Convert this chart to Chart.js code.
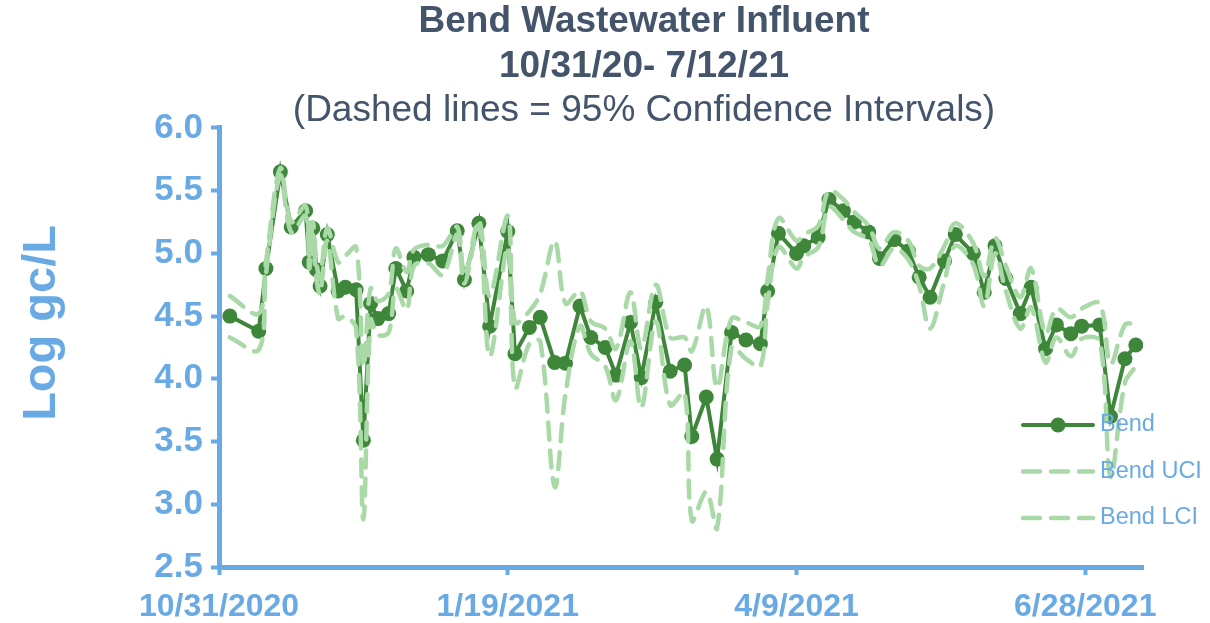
<!DOCTYPE html>
<html>
<head>
<meta charset="utf-8">
<script src="https://cdn.jsdelivr.net/npm/chart.js@4.4.1/dist/chart.umd.min.js"></script>
<style>
  html, body { margin: 0; padding: 0; background: #fff; }
  #wrap { width: 1210px; height: 623px; }
</style>
</head>
<body>
<div id="wrap"><canvas id="bendChart"></canvas></div>
<script>
// sample dates (roughly twice a week)
const sampleDates = [
  '2020-11-03', '2020-11-11', '2020-11-13', '2020-11-17', '2020-11-20', '2020-11-24',
  '2020-11-25', '2020-11-26', '2020-11-27', '2020-11-28', '2020-11-30', '2020-12-03',
  '2020-12-05', '2020-12-08', '2020-12-10', '2020-12-12', '2020-12-14', '2020-12-17',
  '2020-12-19', '2020-12-22', '2020-12-24', '2020-12-28', '2021-01-01', '2021-01-05',
  '2021-01-07', '2021-01-11', '2021-01-14', '2021-01-19', '2021-01-21', '2021-01-25',
  '2021-01-28', '2021-02-01', '2021-02-04', '2021-02-08', '2021-02-11', '2021-02-15',
  '2021-02-18', '2021-02-22', '2021-02-25', '2021-03-01', '2021-03-05', '2021-03-09',
  '2021-03-11', '2021-03-15', '2021-03-18', '2021-03-22', '2021-03-26', '2021-03-30',
  '2021-04-01', '2021-04-04', '2021-04-09', '2021-04-11', '2021-04-15', '2021-04-18',
  '2021-04-22', '2021-04-25', '2021-04-29', '2021-05-02', '2021-05-06', '2021-05-10',
  '2021-05-13', '2021-05-16', '2021-05-20', '2021-05-23', '2021-05-28', '2021-05-31',
  '2021-06-03', '2021-06-06', '2021-06-10', '2021-06-13', '2021-06-17', '2021-06-20',
  '2021-06-24', '2021-06-27', '2021-07-02', '2021-07-05', '2021-07-09', '2021-07-12'
]

const bendLog = [
  4.50, 4.38, 4.88, 5.65, 5.21, 5.34,
  4.93, 5.20, 4.87, 4.74, 5.15, 4.70,
  4.73, 4.71, 3.51, 4.60, 4.48, 4.52,
  4.88, 4.70, 4.97, 4.99, 4.94, 5.18,
  4.79, 5.24, 4.42, 5.175, 4.20, 4.41,
  4.49, 4.13, 4.125, 4.58, 4.33, 4.25,
  4.03, 4.45, 4.01, 4.61, 4.06, 4.11,
  3.54, 3.855, 3.36, 4.37, 4.31, 4.28,
  4.70, 5.16, 5.00, 5.06, 5.13, 5.43,
  5.34, 5.25, 5.17, 4.96, 5.11, 5.02,
  4.81, 4.65, 4.94, 5.15, 5.00, 4.69,
  5.06, 4.80, 4.52, 4.73, 4.24, 4.43,
  4.36, 4.42, 4.43, 3.70, 4.16, 4.27
]

const bendUci = [
  4.66, 4.52, 4.93, 5.68, 5.25, 5.38,
  4.98, 5.25, 4.93, 4.80, 5.20, 4.93,
  4.98, 5.05, 4.10, 4.72, 4.62, 4.68,
  5.04, 4.85, 5.03, 5.07, 5.06, 5.21,
  4.82, 5.26, 4.66, 5.30, 4.45, 4.54,
  4.68, 5.10, 4.60, 4.70, 4.46, 4.40,
  4.24, 4.69, 4.24, 4.75, 4.33, 4.33,
  4.22, 4.58, 3.93, 4.48, 4.45, 4.42,
  4.80, 5.28, 5.10, 5.15, 5.22, 5.50,
  5.43, 5.33, 5.22, 5.04, 5.17, 5.10,
  4.90, 4.88, 5.06, 5.24, 5.08, 4.82,
  5.12, 4.90, 4.65, 4.88, 4.36, 4.56,
  4.49, 4.56, 4.60, 4.12, 4.43, 4.44
]

const bendLci = [
  4.33, 4.23, 4.83, 5.62, 5.17, 5.30,
  4.88, 5.15, 4.80, 4.68, 5.10, 4.48,
  4.50, 4.40, 2.88, 4.47, 4.35, 4.37,
  4.72, 4.55, 4.90, 4.92, 4.83, 5.15,
  4.76, 5.22, 4.18, 5.05, 3.93, 4.28,
  4.30, 3.14, 3.88, 4.42, 4.20, 4.10,
  3.83, 4.30, 3.77, 4.46, 3.79, 3.89,
  2.87, 3.10, 2.81, 4.25, 4.16, 4.10,
  4.60, 5.05, 4.88, 4.97, 5.05, 5.37,
  5.27, 5.17, 5.11, 4.90, 5.04, 4.95,
  4.74, 4.40, 4.78, 5.06, 4.91, 4.58,
  5.00, 4.70, 4.40, 4.57, 4.13, 4.33,
  4.18, 4.32, 4.30, 3.22, 3.97, 4.10
]

const xStart = '2020-10-31'
const xEnd = '2021-07-14'
const xTickDates = ['2020-10-31', '2021-01-19', '2021-04-09', '2021-06-28']
const xTickLabels = ['10/31/2020', '1/19/2021', '4/9/2021', '6/28/2021']

const FONT = "'Liberation Sans', Arial, sans-serif"
const DARK_GREEN = '#3e8639'
const LIGHT_GREEN = '#a9d9a6'
const AXIS_BLUE = '#6aaae4'
const TITLE_GREY = '#44546a'

function dayOf(s) {
  return Math.round((Date.parse(s) - Date.parse(xStart)) / 86400000)
}

function toPoints(values) {
  return values.map((v, i) => ({ x: dayOf(sampleDates[i]), y: v }))
}

// legend + y axis title drawn by hand so they sit where the original had them
const extrasPlugin = {
  id: 'extras',
  afterDraw(chart) {
    const ctx = chart.ctx
    const area = chart.chartArea

    ctx.save()
    ctx.fillStyle = AXIS_BLUE
    ctx.font = 'bold 47px ' + FONT
    ctx.textAlign = 'center'
    ctx.textBaseline = 'middle'
    ctx.translate(42, area.top + 195)
    ctx.rotate(-Math.PI / 2)
    ctx.fillText('Log gc/L', 0, 0)
    ctx.restore()

    const order = [2, 0, 1]
    const x0 = area.right - 120
    const x1 = area.right - 50
    order.forEach((dsIndex, row) => {
      const ds = chart.data.datasets[dsIndex]
      const y = area.bottom - 142 + row * 46.5
      ctx.save()
      ctx.strokeStyle = ds.borderColor
      ctx.lineWidth = ds.borderWidth
      ctx.lineCap = 'round'
      ctx.setLineDash(ds.borderDash || [])
      ctx.beginPath()
      ctx.moveTo(x0, y)
      ctx.lineTo(x1, y)
      ctx.stroke()
      if (ds.pointRadius > 0) {
        ctx.setLineDash([])
        ctx.fillStyle = ds.pointBackgroundColor
        ctx.beginPath()
        ctx.arc((x0 + x1) / 2, y, ds.pointRadius, 0, Math.PI * 2)
        ctx.fill()
      }
      ctx.fillStyle = AXIS_BLUE
      ctx.font = '23.5px ' + FONT
      ctx.textAlign = 'left'
      ctx.textBaseline = 'middle'
      ctx.fillText(ds.label, x1 + 7, y)
      ctx.restore()
    })
  }
}

const ctx = document.getElementById('bendChart').getContext('2d')

const bendChart = new Chart(ctx, {
  type: 'line',
  data: {
    datasets: [
      {
        label: 'Bend UCI',
        data: toPoints(bendUci),
        borderColor: LIGHT_GREEN,
        borderWidth: 4.5,
        borderDash: [17, 11],
        borderCapStyle: 'round',
        pointRadius: 0,
        tension: 0.35,
        fill: false,
        order: 0
      },
      {
        label: 'Bend LCI',
        data: toPoints(bendLci),
        borderColor: LIGHT_GREEN,
        borderWidth: 4.5,
        borderDash: [17, 11],
        borderCapStyle: 'round',
        pointRadius: 0,
        tension: 0.35,
        fill: false,
        order: 1
      },
      {
        label: 'Bend',
        data: toPoints(bendLog),
        borderColor: DARK_GREEN,
        borderWidth: 4,
        pointRadius: 7.5,
        pointBackgroundColor: DARK_GREEN,
        pointBorderWidth: 0,
        tension: 0,
        fill: false,
        order: 2
      }
    ]
  },
  options: {
    responsive: true,
    maintainAspectRatio: false,
    animation: false,
    devicePixelRatio: 1,
    // left padding keeps the title centred where the original had it
    layout: { padding: { left: 145, right: 67, top: 0, bottom: 0 } },
    plugins: {
      legend: { display: false },
      tooltip: { enabled: false },
      title: {
        display: true,
        text: ['Bend Wastewater Influent', '10/31/20- 7/12/21'],
        color: TITLE_GREY,
        font: { family: FONT, size: 37, weight: 'bold', lineHeight: 1.2 },
        padding: { top: 0, bottom: 0 }
      },
      subtitle: {
        display: true,
        text: '(Dashed lines = 95% Confidence Intervals)',
        color: TITLE_GREY,
        font: { family: FONT, size: 37, weight: 'normal', lineHeight: 0.95 },
        padding: { top: 4, bottom: 0 }
      }
    },
    scales: {
      x: {
        type: 'linear',
        min: 0,
        max: dayOf(xEnd),
        afterBuildTicks: scale => {
          scale.ticks = xTickDates.map(d => ({ value: dayOf(d) }))
        },
        afterFit: scale => { scale.height = 56 },
        ticks: {
          color: AXIS_BLUE,
          font: { family: FONT, size: 32, weight: 'bold' },
          padding: 13,
          maxRotation: 0,
          autoSkip: false,
          callback: value => {
            const i = xTickDates.findIndex(d => dayOf(d) === value)
            return i >= 0 ? xTickLabels[i] : ''
          }
        },
        grid: {
          drawOnChartArea: false,
          drawTicks: true,
          tickLength: 8,
          tickWidth: 4,
          tickColor: AXIS_BLUE
        },
        border: { color: AXIS_BLUE, width: 5 }
      },
      y: {
        min: 2.5,
        max: 6.0,
        afterFit: scale => { scale.width = 74 },
        ticks: {
          stepSize: 0.5,
          color: AXIS_BLUE,
          font: { family: FONT, size: 35, weight: 'bold' },
          padding: 8,
          callback: v => v.toFixed(1)
        },
        grid: {
          drawOnChartArea: false,
          drawTicks: true,
          tickLength: 8,
          tickWidth: 4,
          tickColor: AXIS_BLUE
        },
        border: { color: AXIS_BLUE, width: 5 }
      }
    }
  },
  plugins: [extrasPlugin]
})
</script>
</body>
</html>
